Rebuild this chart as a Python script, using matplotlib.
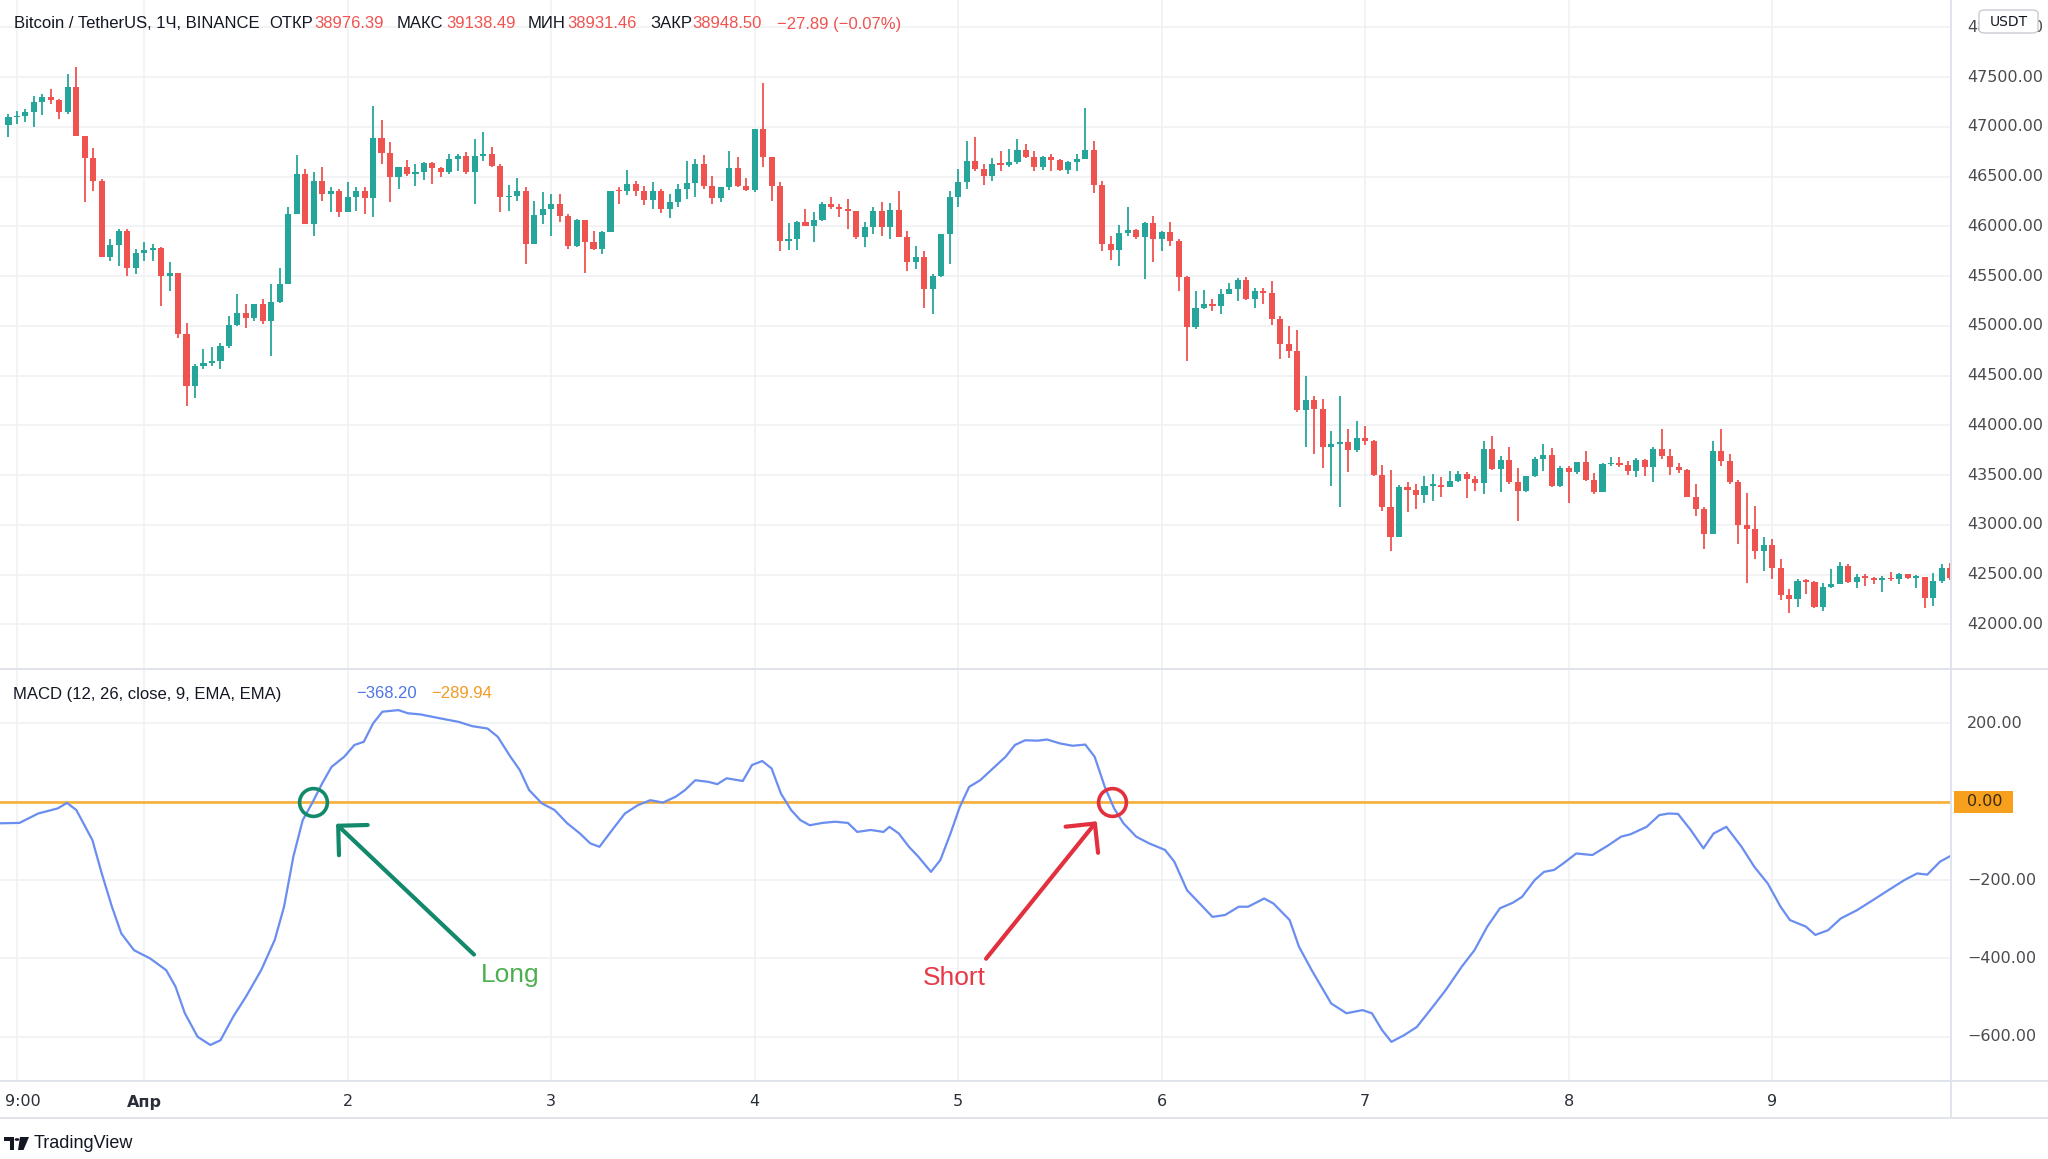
import numpy as np
import matplotlib
matplotlib.use("Agg")
import matplotlib.pyplot as plt
from matplotlib.transforms import blended_transform_factory
from matplotlib.patches import FancyBboxPatch, Rectangle, Polygon, Circle
from matplotlib.lines import Line2D

plt.rcParams['font.family'] = ['DejaVu Sans']

# ---------------- data (hours relative to 1 Apr 00:00, 1H candles) ----------------
first_hour = -16
first_open = 47024
closes = [
    47097, 47114, 47155, 47248, 47299, 47272, 47148, 47400, 46913, 46685,
    46460, 45688, 45816, 45956, 45587, 45738, 45762, 45782, 45503, 45530,
    44916, 44396, 44597, 44631, 44648, 44799, 45010, 45135, 45077, 45218,
    45050, 45245, 45426, 46124, 46527, 46024, 46460, 46326, 46359, 46141,
    46299, 46359, 46285, 46889, 46735, 46493, 46594, 46527, 46544, 46634,
    46587, 46544, 46678, 46712, 46544, 46712, 46728, 46611, 46292, 46309,
    46352, 45822, 46118, 46175, 46225, 46107, 45805, 46064, 45839, 45772,
    45940, 46359, 46352, 46426, 46359, 46265, 46352, 46175, 46242, 46376,
    46436, 46628, 46410, 46285, 46393, 46584, 46410, 46366, 46980, 46695,
    46410, 45856, 45873, 46040, 46007, 46064, 46225, 46191, 46175, 46158,
    45889, 45997, 46158, 45997, 46165, 45889, 45638, 45688, 45369, 45503,
    45923, 46299, 46443, 46661, 46577, 46510, 46628, 46621, 46644, 46769,
    46695, 46601, 46702, 46668, 46567, 46644, 46678, 46769, 46420, 45822,
    45762, 45930, 45963, 45889, 46030, 45873, 45940, 45856, 45493, 44993,
    45185, 45218, 45201, 45324, 45368, 45458, 45268, 45351, 45328, 45067,
    44816, 44749, 44154, 44254, 44164, 43779, 43812, 43829, 43752, 43873,
    43846, 43505, 43177, 42883, 43378, 43351, 43304, 43394, 43404, 43384,
    43445, 43512, 43461, 43418, 43762, 43562, 43652, 43428, 43337, 43495,
    43662, 43705, 43394, 43572, 43528, 43629, 43451, 43327, 43612, 43619,
    43605, 43539, 43654, 43580, 43765, 43697, 43587, 43553, 43284, 43160,
    42908, 43748, 43647, 43429, 43002, 42958, 42733, 42800, 42565, 42296,
    42252, 42437, 42430, 42175, 42377, 42410, 42588, 42430, 42477, 42471,
    42444, 42471, 42454, 42504, 42471, 42480, 42262, 42437, 42572, 42471,
]
highs = [
    47131, 47165, 47181, 47316, 47332, 47383, 47282, 47534, 47601, 46913,
    46789, 46477, 45873, 45973, 45973, 45772, 45839, 45822, 45789, 45638,
    45537, 45034, 44614, 44765, 44789, 44832, 45101, 45319, 45218, 45225,
    45269, 45420, 45587, 46191, 46718, 46577, 46544, 46594, 46393, 46376,
    46443, 46393, 46393, 47208, 47071, 46846, 46594, 46671, 46628, 46644,
    46644, 46594, 46728, 46728, 46745, 46879, 46946, 46802, 46628, 46420,
    46487, 46393, 46259, 46342, 46326, 46326, 46124, 46071, 46064, 45956,
    45956, 46359, 46393, 46567, 46453, 46410, 46443, 46376, 46326, 46426,
    46661, 46678, 46718, 46510, 46399, 46762, 46695, 46487, 46980, 47440,
    46695, 46443, 46034, 46057, 46175, 46141, 46242, 46292, 46225, 46275,
    46158, 46040, 46191, 46242, 46232, 46359, 45950, 45805, 45755, 45520,
    45923, 46359, 46577, 46863, 46896, 46628, 46688, 46755, 46779, 46879,
    46829, 46762, 46712, 46728, 46678, 46661, 46728, 47191, 46856, 46453,
    45906, 46017, 46191, 45973, 46040, 46107, 45956, 46040, 45873, 45503,
    45352, 45359, 45269, 45368, 45435, 45485, 45492, 45385, 45385, 45452,
    45100, 45000, 44956, 44498, 44298, 44264, 43940, 44298, 43963, 44040,
    43996, 43853, 43605, 43552, 43404, 43428, 43411, 43495, 43512, 43478,
    43545, 43545, 43528, 43495, 43839, 43896, 43695, 43779, 43572, 43495,
    43685, 43813, 43772, 43595, 43595, 43629, 43739, 43518, 43619, 43685,
    43685, 43647, 43674, 43664, 43781, 43966, 43765, 43620, 43563, 43412,
    43183, 43842, 43966, 43708, 43452, 43318, 43193, 42874, 42857, 42656,
    42353, 42454, 42454, 42437, 42420, 42555, 42632, 42605, 42511, 42511,
    42477, 42487, 42531, 42521, 42511, 42498, 42471, 42521, 42612, 42622,
]
lows = [
    46896, 47030, 47047, 47004, 47124, 47232, 47081, 47131, 46913, 46242,
    46359, 45688, 45654, 45604, 45503, 45520, 45654, 45654, 45201, 45352,
    44883, 44195, 44278, 44564, 44597, 44564, 44782, 45000, 44983, 45050,
    45017, 44698, 45235, 45426, 46124, 46024, 45906, 46259, 46141, 46090,
    46141, 46158, 46124, 46090, 46628, 46242, 46376, 46510, 46410, 46467,
    46426, 46493, 46527, 46561, 46527, 46225, 46661, 46601, 46141, 46158,
    46259, 45621, 45822, 46024, 45906, 46040, 45772, 45789, 45537, 45762,
    45721, 45940, 46225, 46319, 46309, 46218, 46175, 46131, 46084, 46198,
    46275, 46299, 46376, 46225, 46242, 46366, 46393, 46359, 46342, 46594,
    46259, 45755, 45762, 45762, 46000, 45839, 46057, 46175, 46091, 45973,
    45873, 45789, 45923, 45906, 45873, 45889, 45554, 45571, 45185, 45117,
    45493, 45621, 46191, 46376, 46561, 46420, 46453, 46561, 46601, 46628,
    46688, 46561, 46567, 46561, 46561, 46527, 46561, 46678, 46332, 45755,
    45661, 45604, 45906, 45873, 45470, 45638, 45755, 45805, 45352, 44648,
    44966, 45168, 45151, 45117, 45318, 45251, 45258, 45184, 45217, 45010,
    44665, 44682, 44140, 43779, 43712, 43572, 43394, 43184, 43528, 43729,
    43806, 43495, 43143, 42742, 42876, 43127, 43160, 43217, 43244, 43284,
    43378, 43428, 43271, 43344, 43311, 43552, 43327, 43411, 43036, 43327,
    43478, 43545, 43384, 43384, 43217, 43512, 43445, 43311, 43327, 43595,
    43578, 43506, 43479, 43496, 43429, 43664, 43506, 43519, 43277, 43092,
    42756, 42908, 43597, 43412, 42807, 42420, 42656, 42538, 42454, 42242,
    42118, 42175, 42303, 42168, 42135, 42370, 42403, 42420, 42363, 42387,
    42403, 42330, 42437, 42403, 42454, 42370, 42168, 42185, 42420, 42450,
]

macd_t = [-17.0, -14.7, -12.5, -10.2, -9.1, -8.0, -6.1, -5.0, -3.8, -2.7,
          -1.2, 0.7, 2.6, 3.7, 4.8, 6.3, 7.8, 9.0, 10.5, 12.0,
          13.8, 15.4, 16.5, 17.6, 18.7, 19.9, 21.0, 22.1, 23.6, 24.8,
          25.9, 27.0, 28.1, 30.0, 31.1, 32.6, 34.9, 37.1, 38.7, 40.5,
          41.7, 43.2, 44.3, 45.4, 46.9, 48.4, 49.9, 51.4, 52.6, 53.7,
          55.2, 56.7, 58.2, 59.7, 61.2, 62.7, 63.8, 65.0, 66.5, 67.6,
          68.7, 70.6, 71.7, 72.9, 74.0, 75.1, 76.3, 77.4, 78.5, 80.0,
          81.5, 83.0, 84.1, 85.7, 87.2, 87.9, 89.0, 90.2, 91.3, 92.8,
          93.9, 95.1, 96.2, 97.3, 98.6, 100.1, 101.6, 102.7, 103.9, 105.4,
          106.5, 108.0, 109.5, 111.0, 112.1, 113.3, 114.4, 115.5, 117.0, 118.5,
          120.4, 121.5, 123.0, 124.5, 126.0, 127.5, 129.1, 130.2, 132.1, 133.2,
          135.1, 136.2, 137.7, 140.0, 141.8, 143.7, 144.8, 146.0, 147.1, 148.6,
          150.1, 152.0, 153.5, 155.4, 156.9, 158.4, 159.9, 161.4, 162.5, 164.0,
          165.1, 166.3, 167.4, 168.9, 170.8, 172.7, 174.2, 175.3, 177.2, 178.7,
          179.8, 180.9, 182.4, 183.9, 185.1, 186.6, 188.4, 189.9, 191.5, 193.0,
          194.1, 196.0, 197.1, 198.6, 200.1, 202.0, 203.9, 205.7, 207.6, 209.1,
          210.3, 211.8, 212.9]
macd_v = [-55, -54, -30, -17, -3, -21, -98, -183, -268, -336,
          -379, -400, -430, -472, -540, -600, -621, -609, -549, -498,
          -430, -353, -268, -140, -47, 0, 47, 89, 115, 145,
          153, 200, 230, 234, 226, 223, 213, 204, 193, 187,
          166, 115, 81, 30, -4, -21, -55, -81, -106, -115,
          -72, -30, -9, 4, -2, 13, 30, 55, 51, 45,
          60, 53, 94, 104, 85, 21, -21, -47, -60, -54,
          -51, -54, -77, -72, -77, -64, -81, -115, -140, -179,
          -149, -81, -13, 38, 55, 85, 115, 145, 157, 156,
          159, 149, 143, 146, 115, 38, -17, -55, -89, -106,
          -123, -153, -226, -260, -294, -289, -268, -268, -247, -260,
          -302, -370, -430, -515, -540, -532, -540, -583, -613, -596,
          -575, -523, -481, -421, -379, -319, -272, -258, -243, -200,
          -179, -174, -157, -132, -136, -111, -89, -83, -64, -34,
          -30, -31, -72, -119, -81, -64, -115, -166, -209, -268,
          -302, -319, -340, -328, -298, -277, -251, -226, -200, -183,
          -186, -153, -140]

price_ticks = [42000, 42500, 43000, 43500, 44000, 44500, 45000, 45500,
               46000, 46500, 47000, 47500, 48000]
macd_ticks = [200, 0, -200, -400, -600]
time_tick_hours = [-15, 0, 24, 48, 72, 96, 120, 144, 168, 192]
time_tick_labels = ['9:00', 'Апр', '2', '3', '4', '5', '6', '7', '8', '9']
long_hour = 19.9
short_hour = 114.2

header_parts = ["Bitcoin / TetherUS, 1Ч, BINANCE", "ОТКР", "38976.39", "МАКС",
                "39138.49", "МИН", "38931.46", "ЗАКР", "38948.50", "−27.89 (−0.07%)"]
macd_title = "MACD (12, 26, close, 9, EMA, EMA)"
macd_legend_values = ["−368.20", "−289.94"]

# ---------------- styling ----------------
W, H = 2048, 1159
UP, DOWN = '#26a69a', '#ef5350'
GRID = '#f0f1f4'
SEP = '#e0e3eb'
TXT = '#131722'
AXT = '#4a4a4f'
ORANGE = '#f5a623'
BLUE = '#6a8df0'
SANS = ['Liberation Sans', 'DejaVu Sans']

def fx(px):
    return px / W

def fy(py):
    return 1 - py / H

fig = plt.figure(figsize=(W / 100, H / 100), dpi=100)
fig.patch.set_facecolor('white')

ax1 = fig.add_axes([0, fy(669), fx(1951), 669 / H])
ax2 = fig.add_axes([0, fy(1081), fx(1951), (1081 - 669) / H])
for ax in (ax1, ax2):
    ax.set_axis_off()
    ax.set_xlim(-17.0, 213.1)
ax1.set_ylim(41552, 48276)
ax2.set_ylim(-713, 339)

# grid
for h in time_tick_hours:
    ax1.axvline(h, color=GRID, lw=1.2, zorder=0)
    ax2.axvline(h, color=GRID, lw=1.2, zorder=0)
for p in price_ticks:
    ax1.axhline(p, color=GRID, lw=1.2, zorder=0)
for m in macd_ticks:
    ax2.axhline(m, color=GRID, lw=1.2, zorder=0)

# candles
c = np.array(closes, dtype=float)
o = np.concatenate([[first_open], c[:-1]])
hi = np.maximum(np.array(highs, dtype=float), np.maximum(o, c))
lo = np.minimum(np.array(lows, dtype=float), np.minimum(o, c))
x = np.arange(first_hour, first_hour + len(c))
colors = np.where(c >= o, UP, DOWN)
ax1.vlines(x, lo, hi, colors=colors, lw=1.3, zorder=2)
body_h = np.maximum(np.abs(c - o), 14)
ax1.bar(x, body_h, bottom=np.minimum(o, c), width=0.72, color=colors,
        linewidth=0, zorder=3)

# MACD
ax2.axhline(0, color=ORANGE, lw=2.0, zorder=2, alpha=0.85)
ax2.plot(macd_t, macd_v, color=BLUE, lw=1.6, zorder=3)

# signals
GREEN_SIG = '#13896c'
RED_SIG = '#e2303f'
ax2.plot([long_hour], [0], marker='o', ms=20, mfc='none', mec=GREEN_SIG,
         mew=2.6, zorder=5)
ax2.plot([short_hour], [0], marker='o', ms=20, mfc='none', mec=RED_SIG,
         mew=2.6, zorder=5)
ax2.annotate('', xy=(long_hour, 0), xytext=(116, -110), textcoords='offset points',
             arrowprops=dict(arrowstyle='->,head_length=1.0,head_width=1.0',
                             mutation_scale=15, lw=3.0, color=GREEN_SIG,
                             shrinkA=0, shrinkB=23), zorder=6)
ax2.annotate('', xy=(short_hour, 0), xytext=(-91, -113), textcoords='offset points',
             arrowprops=dict(arrowstyle='->,head_length=1.0,head_width=1.0',
                             mutation_scale=15, lw=3.0, color=RED_SIG,
                             shrinkA=0, shrinkB=18), zorder=6)
ax2.annotate('Long', xy=(long_hour, 0), xytext=(142, -125), textcoords='offset points',
             ha='center', va='center', fontsize=19, color='#4caf50', family=SANS)
ax2.annotate('Short', xy=(short_hour, 0), xytext=(-114, -127), textcoords='offset points',
             ha='center', va='center', fontsize=19, color='#e53946', family=SANS)

# right price axis labels
lab_x = 1967 / 1951
t1 = blended_transform_factory(ax1.transAxes, ax1.transData)
for p in price_ticks:
    ax1.text(lab_x, p, f'{p:.2f}', transform=t1, ha='left', va='center',
             fontsize=11.5, color=AXT, clip_on=False)
t2 = blended_transform_factory(ax2.transAxes, ax2.transData)
for m in macd_ticks:
    if m == 0:
        continue
    ax2.text(lab_x, m, f'{m:.2f}'.replace('-', '−'), transform=t2, ha='left',
             va='center', fontsize=11.5, color=AXT, clip_on=False)
# zero-line label
ax2.add_patch(Rectangle((1954 / 1951, -28), 59 / 1951, 56, transform=t2,
                        facecolor='#f6a01e', edgecolor='none', clip_on=False,
                        zorder=6))
ax2.text(lab_x, 0, '0.00', transform=t2, ha='left', va='center', fontsize=11.5,
         color='#3b2a10', clip_on=False, zorder=7)

# USDT box
fig.add_artist(FancyBboxPatch((fx(1979), fy(33)), 59 / W, 23 / H,
                              boxstyle='round,pad=0,rounding_size=0.003',
                              transform=fig.transFigure, facecolor='white',
                              edgecolor='#c9ccd3', lw=1.0, zorder=10))
fig.text(fx(2008.5), fy(21.5), 'USDT', ha='center', va='center', fontsize=10,
         color=TXT, zorder=11)

# time axis labels (the first one is kept inside the canvas, as TradingView does)
tt = blended_transform_factory(ax2.transData, fig.transFigure)
for i, (h, lab) in enumerate(zip(time_tick_hours, time_tick_labels)):
    if i == 0:
        fig.text(fx(5), fy(1102), lab, ha='left', va='center', fontsize=11.5,
                 color='#2a2e39')
        continue
    ax2.text(h, fy(1102), lab, transform=tt, ha='center', va='center',
             fontsize=11.5, color='#2a2e39', clip_on=False,
             fontweight='bold' if lab == 'Апр' else 'normal')

# separators
for py in (669, 1081, 1118):
    fig.add_artist(Line2D([0, 1], [fy(py), fy(py)], transform=fig.transFigure,
                          color=SEP, lw=1.4))
fig.add_artist(Line2D([fx(1951), fx(1951)], [fy(1118), 1], transform=fig.transFigure,
                      color=SEP, lw=1.4))

# header
hdr_x = [14, 269, 314, 397, 446, 528, 567, 650, 692, 777]
hdr_c = [TXT, TXT, DOWN, TXT, DOWN, TXT, DOWN, TXT, DOWN, DOWN]
for s, px, col in zip(header_parts, hdr_x, hdr_c):
    fig.text(fx(px), fy(24), s, ha='left', va='center', fontsize=12, color=col,
             family=SANS)

# MACD legend
fig.text(fx(13), fy(694), macd_title, ha='left', va='center', fontsize=12,
         color=TXT, family=SANS)
fig.text(fx(356), fy(694), macd_legend_values[0], ha='left', va='center',
         fontsize=12, color='#4f74ea', family=SANS)
fig.text(fx(431), fy(694), macd_legend_values[1], ha='left', va='center',
         fontsize=12, color='#f59a23', family=SANS)

# TradingView logo
def P(pts):
    return [(fx(a), fy(b)) for a, b in pts]

fig.add_artist(Polygon(P([(4, 1137), (14, 1137), (14, 1150), (9.5, 1150),
                          (9.5, 1141), (4, 1141)]), closed=True,
                       transform=fig.transFigure, facecolor=TXT, edgecolor='none'))
fig.add_artist(Circle((fx(17), fy(1139.5)), 2.4 / W, transform=fig.transFigure,
                      facecolor=TXT, edgecolor='none'))
fig.add_artist(Polygon(P([(20, 1137), (29, 1137), (23.5, 1150), (18, 1150)]),
                       closed=True, transform=fig.transFigure, facecolor=TXT,
                       edgecolor='none'))
fig.text(fx(34), fy(1143), 'TradingView', ha='left', va='center', fontsize=13,
         color=TXT, family=SANS)

fig.savefig('out.png', dpi=100, facecolor='white')
